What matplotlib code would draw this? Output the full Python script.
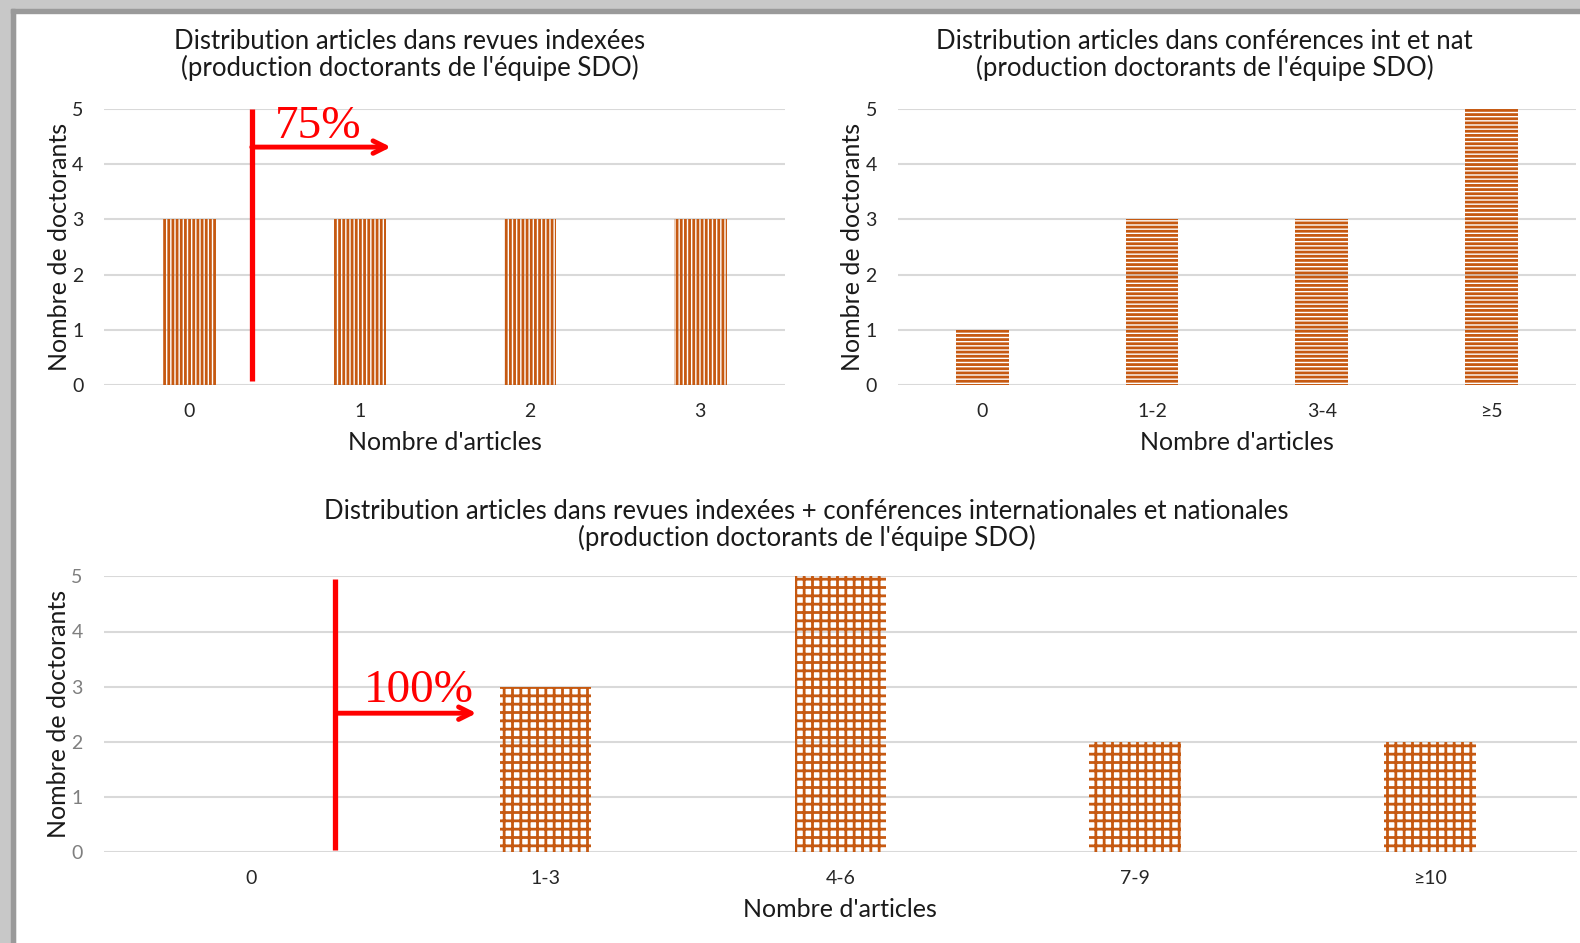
import matplotlib.pyplot as plt
from matplotlib.patches import Rectangle

plt.rcParams['font.family'] = ['Lato', 'DejaVu Sans']
plt.rcParams['hatch.linewidth'] = 2.0

# data
cats_revues = ["0", "1", "2", "3"]
vals_revues = [3, 3, 3, 3]

cats_conf = ["0", "1-2", "3-4", "≥5"]
vals_conf = [1, 3, 3, 5]

cats_total = ["0", "1-3", "4-6", "7-9", "≥10"]
vals_total = [0, 3, 5, 2, 2]

orange = "#C65911"
grid_col = "#D9D9D9"
W, H = 1580, 943

fig = plt.figure(figsize=(W / 100, H / 100), dpi=100)

# gray frame shadow on top and left
fig.patches.append(Rectangle((0, 1 - 9 / H), 1, 9 / H, transform=fig.transFigure,
                             color="#C8C8C8", zorder=0))
fig.patches.append(Rectangle((0, 0), 15 / W, 1, transform=fig.transFigure,
                             color="#C8C8C8", zorder=0))
fig.patches.append(Rectangle((11 / W, 0), 4 / W, 1 - 9 / H, transform=fig.transFigure,
                             color="#9A9A9A", zorder=0))
fig.patches.append(Rectangle((11 / W, 1 - 13 / H), 1, 4 / H, transform=fig.transFigure,
                             color="#9A9A9A", zorder=0))


def style(ax, cats, tick_col):
    ax.set_ylim(0, 5)
    ax.set_xlim(-0.5, len(cats) - 0.5)
    ax.set_yticks(range(6))
    ax.set_xticks(range(len(cats)))
    ax.set_xticklabels(cats)
    ax.yaxis.grid(True, color=grid_col, linewidth=1.5)
    ax.set_axisbelow(True)
    for s in ax.spines.values():
        s.set_visible(False)
    ax.tick_params(axis='both', length=0, labelsize=14)
    ax.tick_params(axis='x', pad=13, colors="#262626")
    ax.tick_params(axis='y', pad=15, colors=tick_col)
    ax.set_xlabel("Nombre d'articles", fontsize=18, color="#1a1a1a", labelpad=8)
    ax.set_ylabel("Nombre de doctorants", fontsize=18, color="#1a1a1a", labelpad=1)


# top left
ax1 = fig.add_axes([104.3 / W, 1 - 385 / H, 681 / W, 276 / H])
ax1.bar(range(len(cats_revues)), vals_revues, width=0.31, color="none",
        edgecolor=orange, hatch="||||", linewidth=0)
style(ax1, cats_revues, "#262626")
ax1.set_title("Distribution articles dans revues indexées\n(production doctorants de l'équipe SDO)",
              fontsize=18.5, x=0.448, pad=24, color="#1a1a1a", linespacing=1.02)
ax1.plot([0.367, 0.367], [0.07, 5], color="red", lw=3.8, solid_capstyle="butt")
ax1.annotate("", xy=(1.2, 4.31), xytext=(0.35, 4.31),
             arrowprops=dict(arrowstyle="->,head_length=0.9,head_width=0.45",
                             color="red", lw=3.5))
ax1.text(0.5, 4.48, "75%", color="red", fontsize=34, family="Liberation Serif",
         ha="left", va="baseline")

# top right
ax2 = fig.add_axes([897.7 / W, 1 - 385 / H, 678.4 / W, 276 / H])
ax2.bar(range(len(cats_conf)), vals_conf, width=0.31, color="none",
        edgecolor=orange, hatch="----", linewidth=0)
style(ax2, cats_conf, "#262626")
ax2.set_title("Distribution articles dans conférences int et nat\n(production doctorants de l'équipe SDO)",
              fontsize=18.5, x=0.452, pad=24, color="#1a1a1a", linespacing=1.02)

# bottom
ax3 = fig.add_axes([103.5 / W, 1 - 852.3 / H, 1473.7 / W, 276 / H])
ax3.bar(range(len(cats_total)), vals_total, width=0.31, color="none",
        edgecolor=orange, hatch="++", linewidth=0)
style(ax3, cats_total, "#7F7F7F")
ax3.set_title("Distribution articles dans revues indexées + conférences internationales et nationales\n"
              "(production doctorants de l'équipe SDO)",
              fontsize=18.5, x=0.477, pad=22, color="#1a1a1a", linespacing=1.02)
ax3.plot([0.287, 0.287], [0.05, 4.95], color="red", lw=3.8, solid_capstyle="butt")
ax3.annotate("", xy=(0.775, 2.52), xytext=(0.278, 2.52),
             arrowprops=dict(arrowstyle="->,head_length=0.9,head_width=0.45",
                             color="red", lw=3.5))
ax3.text(0.385, 2.72, "100%", color="red", fontsize=34, family="Liberation Serif",
         ha="left", va="baseline")

fig.savefig("out.png", dpi=100)
